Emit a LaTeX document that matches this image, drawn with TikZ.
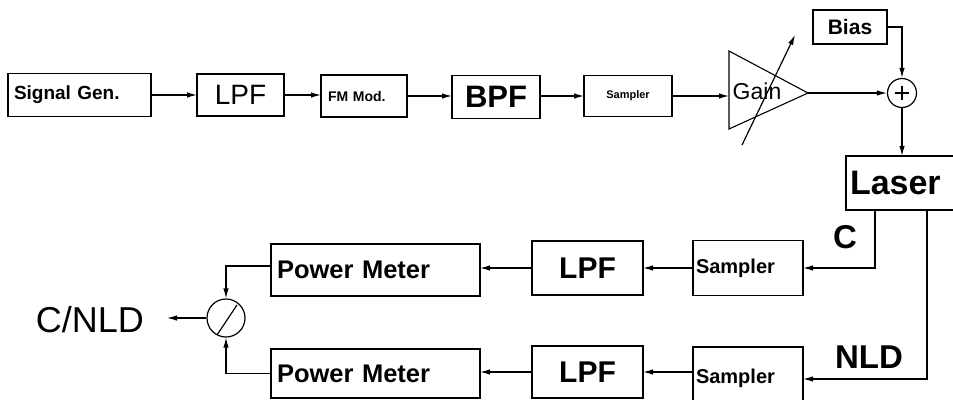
\documentclass[tikz,border=0pt]{standalone}
\usepackage{fontspec}
\setmainfont{Liberation Sans}
\usetikzlibrary{arrows.meta,calc}
\begin{document}
\begin{tikzpicture}[x=1pt,y=-1pt,
  box/.style={draw, line width=1.3pt, inner sep=0pt, outer sep=0pt},
  lbox/.style={box, align=left, inner xsep=#1},
  conn/.style={line width=1.2pt, -{Latex[length=10pt,width=5.5pt]}},
  wire/.style={line width=1.2pt},
  fnt/.style={font=\fontsize{#1}{#1}\selectfont},
  bfnt/.style={font=\bfseries\fontsize{#1}{#1}\selectfont},
  ]
\useasboundingbox (0,0) rectangle (953,399);
% top row
\node[lbox=6pt, text width=131pt, minimum width=143pt, minimum height=43pt, bfnt=19] (sig) at (79.5,95) {Signal Gen.};
\node[box, minimum width=87pt, minimum height=42pt, fnt=28] (lpfT) at (240.5,95) {LPF};
\node[lbox=7pt, text width=72pt, minimum width=86pt, minimum height=42pt, bfnt=14] (fm) at (364,96) {FM Mod.};
\node[box, minimum width=88pt, minimum height=43pt, bfnt=31] (bpf) at (496,97) {BPF};
\node[box, minimum width=88pt, minimum height=41pt, bfnt=11] (samp) at (628,96) {Sampler};
\coordinate (gin) at (729,96);
\coordinate (gout) at (808,93);
\draw[line width=1.1pt] (729,51) -- (gout) -- (729,129) -- cycle;
\node[fnt=23, inner sep=0pt] (gain) at (757,91) {Gain};
\coordinate (adjA) at (742,145);
\coordinate (adjB) at (795,35);
\draw[conn] (adjA) -- (adjB);
\node[circle, draw, line width=1.2pt, minimum size=29pt, inner sep=0pt] (sum) at (902,93) {};
\draw[line width=1.8pt] ($(sum.center)+(-7,0)$) -- ($(sum.center)+(7,0)$)
  ($(sum.center)+(0,-7)$) -- ($(sum.center)+(0,7)$);
\node[box, minimum width=74pt, minimum height=34pt, bfnt=21] (bias) at (850,27) {Bias};
\node[lbox=4pt, text width=108pt, minimum width=116pt, minimum height=54pt, bfnt=34] (laser) at (904,183) {Laser};

\draw[conn] (sig.east) -- (lpfT.west);
\draw[conn] (lpfT.east) -- (fm.west |- lpfT.east);
\draw[conn] (fm.east) -- (bpf.west |- fm.east);
\draw[conn] (bpf.east |- samp.east) -- (samp.west);
\draw[conn] (samp.east) -- (gin);
\draw[conn] (gout) -- (sum.west);
\draw[conn] (bias.east) -| (sum.north);
\draw[conn] (sum.south) -- (sum.south |- laser.north);

% bottom rows
\node[lbox=3pt, text width=104pt, minimum width=110pt, minimum height=55pt, bfnt=20] (samp1) at (748,268) {Sampler};
\node[box, minimum width=111pt, minimum height=54pt, bfnt=30] (lpf1) at (587.5,268) {LPF};
\node[lbox=6pt, text width=197pt, minimum width=209pt, minimum height=52pt, bfnt=25.5] (pm1) at (375.5,270) {Power Meter};
\node[lbox=3pt, text width=104pt, minimum width=110pt, minimum height=64pt, bfnt=20] (samp2) at (748,379) {\raisebox{6pt}{Sampler}};
\node[box, minimum width=111pt, minimum height=52pt, bfnt=30] (lpf2) at (587.5,372) {LPF};
\node[lbox=6pt, text width=197pt, minimum width=209pt, minimum height=49pt, bfnt=25.5] (pm2) at (375.5,373.5) {Power Meter};
\node[circle, draw, line width=1.2pt, minimum size=38pt, inner sep=0pt] (div) at (226,318) {};
\draw[wire] ($(div.center)+(-9,17)$) -- ($(div.center)+(11,-13)$);
\node[fnt=36, inner sep=0pt] (cnld) at (90,320) {C/NLD};
\coordinate (outEnd) at (167,318);
\node[bfnt=33, inner sep=0pt] (clab) at (845,237) {C};
\node[bfnt=33, inner sep=0pt] (nldlab) at (869,357) {NLD};

\draw[conn] ([xshift=29pt]laser.south west) |- (samp1.east);
\draw[conn] ([xshift=81pt]laser.south west) |- (samp2.east);
\draw[conn] (samp1.west) -- (lpf1.east);
\draw[conn] (lpf1.west) -- (lpf1.west -| pm1.east);
\draw[conn] (samp2.west |- lpf2.east) -- (lpf2.east);
\draw[conn] (lpf2.west) -- (lpf2.west -| pm2.east);
\draw[conn] ([yshift=4pt]pm1.west) -| (div.north);
\draw[conn] (pm2.west) -| (div.south);
\draw[conn] (div.west) -- (outEnd);
\end{tikzpicture}
\end{document}
